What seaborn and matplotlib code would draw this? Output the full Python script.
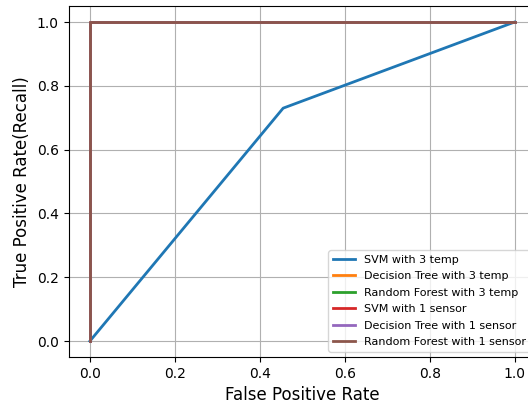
import matplotlib
matplotlib.use("Agg")
import matplotlib.pyplot as plt
import seaborn as sns
import pandas as pd

models = [
    "SVM with 3 temp",
    "Decision Tree with 3 temp",
    "Random Forest with 3 temp",
    "SVM with 1 sensor",
    "Decision Tree with 1 sensor",
    "Random Forest with 1 sensor",
]

svm3_fpr = [0.0, 0.455, 1.0]
svm3_tpr = [0.0, 0.730, 1.0]
perfect_fpr = [0.0, 0.0, 1.0]
perfect_tpr = [0.0, 1.0, 1.0]

curves = {
    models[0]: (svm3_fpr, svm3_tpr),
    models[1]: (perfect_fpr, perfect_tpr),
    models[2]: (perfect_fpr, perfect_tpr),
    models[3]: (perfect_fpr, perfect_tpr),
    models[4]: (perfect_fpr, perfect_tpr),
    models[5]: (perfect_fpr, perfect_tpr),
}

rows = []
for name in models:
    fpr, tpr = curves[name]
    for i, (f, t) in enumerate(zip(fpr, tpr)):
        rows.append({"model": name, "step": i, "fpr": f, "tpr": t})
df = pd.DataFrame(rows)

fig = plt.figure(figsize=(5.28, 4.03), dpi=100)
ax = fig.add_axes([0.130, 0.114, 0.885, 0.871])

sns.lineplot(data=df, x="fpr", y="tpr", hue="model", hue_order=models,
             palette=sns.color_palette("tab10", 6), sort=False,
             estimator=None, units="model", linewidth=2, ax=ax)

ax.set_xlim(-0.05, 1.05)
ax.set_ylim(-0.05, 1.05)
ax.set_xticks([0.0, 0.2, 0.4, 0.6, 0.8, 1.0])
ax.set_yticks([0.0, 0.2, 0.4, 0.6, 0.8, 1.0])
ax.tick_params(labelsize=10)
ax.set_xlabel("False Positive Rate", fontsize=12)
ax.set_ylabel("True Positive Rate(Recall)", fontsize=12)
ax.grid(True, color="#b0b0b0", linewidth=0.8)
ax.legend(loc="lower right", fontsize=8, labelspacing=0.58, title=None)

fig.savefig("out.png", dpi=100)
